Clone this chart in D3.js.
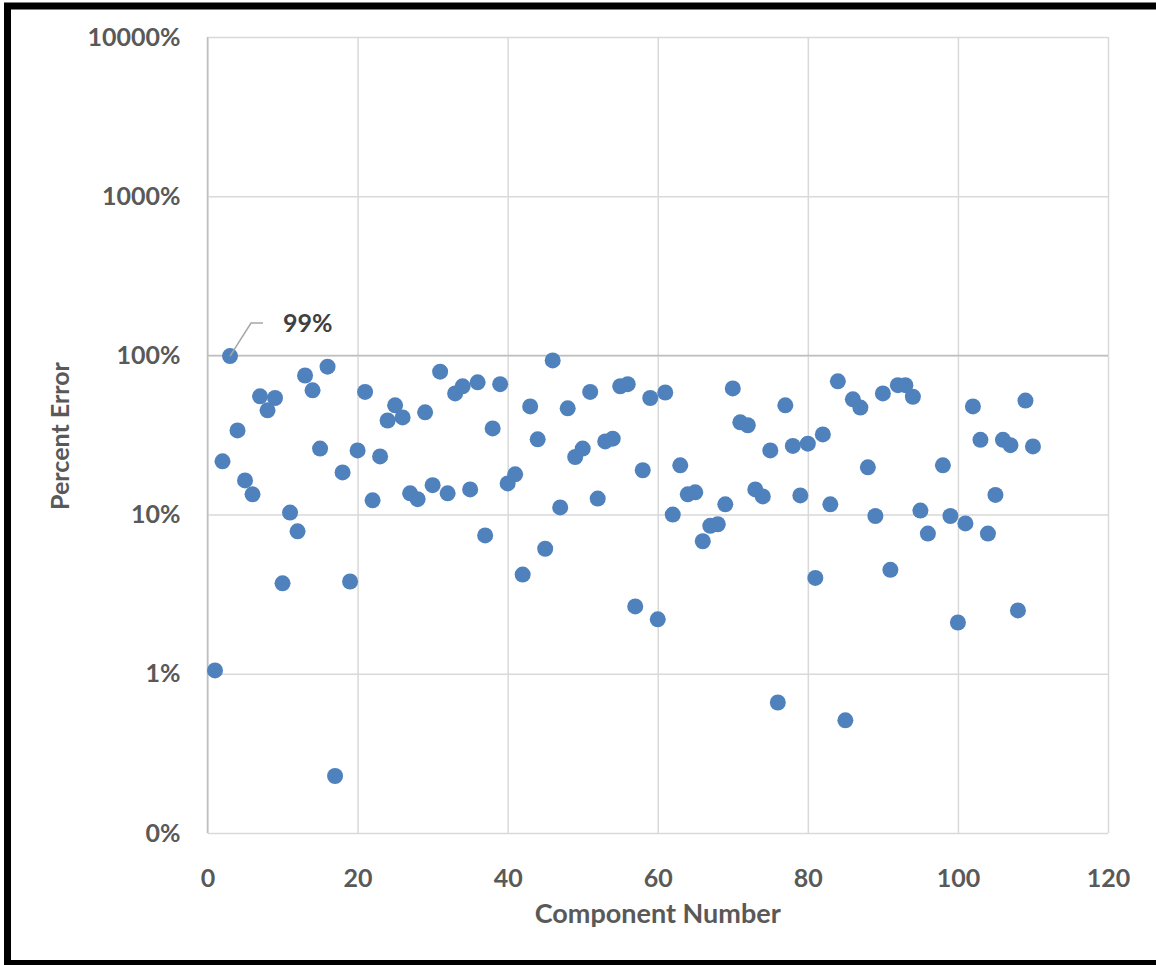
<!DOCTYPE html>
<html>
<head>
<meta charset="utf-8">
<script src="https://cdn.jsdelivr.net/npm/d3@7"></script>
<style>
  body { margin: 0; background: #fff; }
  svg text { font-family: Lato, "Open Sans", sans-serif; font-weight: bold; }
</style>
</head>
<body>
<div id="chart"></div>
<script>
// component numbers 1..110 (97 has no plotted value)
const components = d3.range(1, 111)
const percentError = [
  1.05, 21.6, 99, 33.8, 16.4, 13.4, 55.3, 45.2, 54, 3.7,
  10.3, 7.85, 74.8, 60.3, 26, 85, 0.228, 18.4, 3.8, 25.3,
  59, 12.3, 23.2, 39, 48.6, 40.8, 13.6, 12.5, 43.9, 15.3,
  79, 13.6, 57.7, 63.9, 14.4, 67.7, 7.4, 34.8, 66, 15.7,
  17.9, 4.2, 47.8, 29.7, 6.1, 93, 11.1, 46.5, 23, 26,
  59, 12.6, 28.8, 30, 64, 66, 2.65, 19, 54, 2.2,
  58.5, 10, 20.4, 13.4, 13.8, 6.8, 8.5, 8.7, 11.6, 62,
  38, 36.4, 14.4, 13, 25.3, 0.66, 48.6, 27, 13.2, 27.9,
  4, 31.9, 11.6, 68.7, 0.51, 53, 47, 19.8, 9.8, 57.7,
  4.5, 65, 65, 55, 10.6, 7.6, null, 20.4, 9.8, 2.1,
  8.8, 47.8, 29.5, 7.6, 13.3, 29.5, 27.3, 2.5, 52, 26.8
]
const xTicks = [0, 20, 40, 60, 80, 100, 120]
const yTicks = [0.1, 1, 10, 100, 1000, 10000]
const yTickLabels = ["0%", "1%", "10%", "100%", "1000%", "10000%"]
const labelled = { comp: 3, text: "99%" }

const W = 1156, H = 965
const m = { left: 207.5, top: 37, right: 48, bottom: 132 }
const pw = W - m.left - m.right, ph = H - m.top - m.bottom

const svg = d3.select("#chart").append("svg")
  .attr("width", W).attr("height", H)

const x = d3.scaleLinear().domain([0, 120]).range([0, pw])
const y = d3.scaleLog().domain([0.1, 10000]).range([ph, 0])

const g = svg.append("g").attr("transform", `translate(${m.left},${m.top})`)

// grid + tick labels
const xAxis = g.append("g")
  .attr("transform", `translate(0,${ph})`)
  .call(d3.axisBottom(x).tickValues(xTicks).tickSize(-ph).tickPadding(30))
const yAxis = g.append("g")
  .call(d3.axisLeft(y).tickValues(yTicks).tickFormat((d, i) => yTickLabels[i]).tickSize(-pw).tickPadding(27))

for (const ax of [xAxis, yAxis]) {
  ax.select(".domain").remove()
  ax.selectAll(".tick line").attr("stroke", "#d9d9d9").attr("stroke-width", 1.5)
  ax.selectAll(".tick text").attr("fill", "#595959").style("font-size", "25px")
}
xAxis.selectAll(".tick text").attr("dy", "0.95em")

// value axis line at left, category axis crosses at 100%
g.append("line").attr("x1", 0).attr("x2", 0).attr("y1", 0).attr("y2", ph)
  .attr("stroke", "#bfbfbf").attr("stroke-width", 1.5)
g.append("line").attr("x1", 0).attr("x2", pw).attr("y1", y(100)).attr("y2", y(100))
  .attr("stroke", "#bfbfbf").attr("stroke-width", 1.5)

const pts = components.map((c, i) => ({ c, v: percentError[i] })).filter(d => d.v != null)

g.selectAll("circle.pt").data(pts).enter().append("circle")
  .attr("class", "pt")
  .attr("cx", d => x(d.c))
  .attr("cy", d => y(d.v))
  .attr("r", 8)
  .attr("fill", "#4f81bd")

// data label with leader line
const lp = pts.find(d => d.c === labelled.comp)
const lx = x(lp.c), ly = y(lp.v)
g.append("polyline")
  .attr("points", `${lx},${ly} ${lx + 21},${ly - 33} ${lx + 33},${ly - 33}`)
  .attr("fill", "none").attr("stroke", "#a6a6a6").attr("stroke-width", 1.5)
g.append("text")
  .attr("x", lx + 53).attr("y", ly - 33).attr("dy", "0.35em")
  .attr("fill", "#404040").style("font-size", "25px")
  .text(labelled.text)

// axis titles
svg.append("text")
  .attr("x", m.left + pw / 2).attr("y", 914).attr("dy", "0.35em")
  .attr("text-anchor", "middle").attr("fill", "#595959").style("font-size", "27px")
  .text("Component Number")
svg.append("text")
  .attr("transform", "translate(60,436) rotate(-90)")
  .attr("dy", "0.35em")
  .attr("text-anchor", "middle").attr("fill", "#595959").style("font-size", "25px")
  .text("Percent Error")

// outer frame
svg.append("rect")
  .attr("x", 7.5).attr("y", 6).attr("width", 1300).attr("height", 957.5)
  .attr("fill", "none").attr("stroke", "#000").attr("stroke-width", 7)
</script>
</body>
</html>
